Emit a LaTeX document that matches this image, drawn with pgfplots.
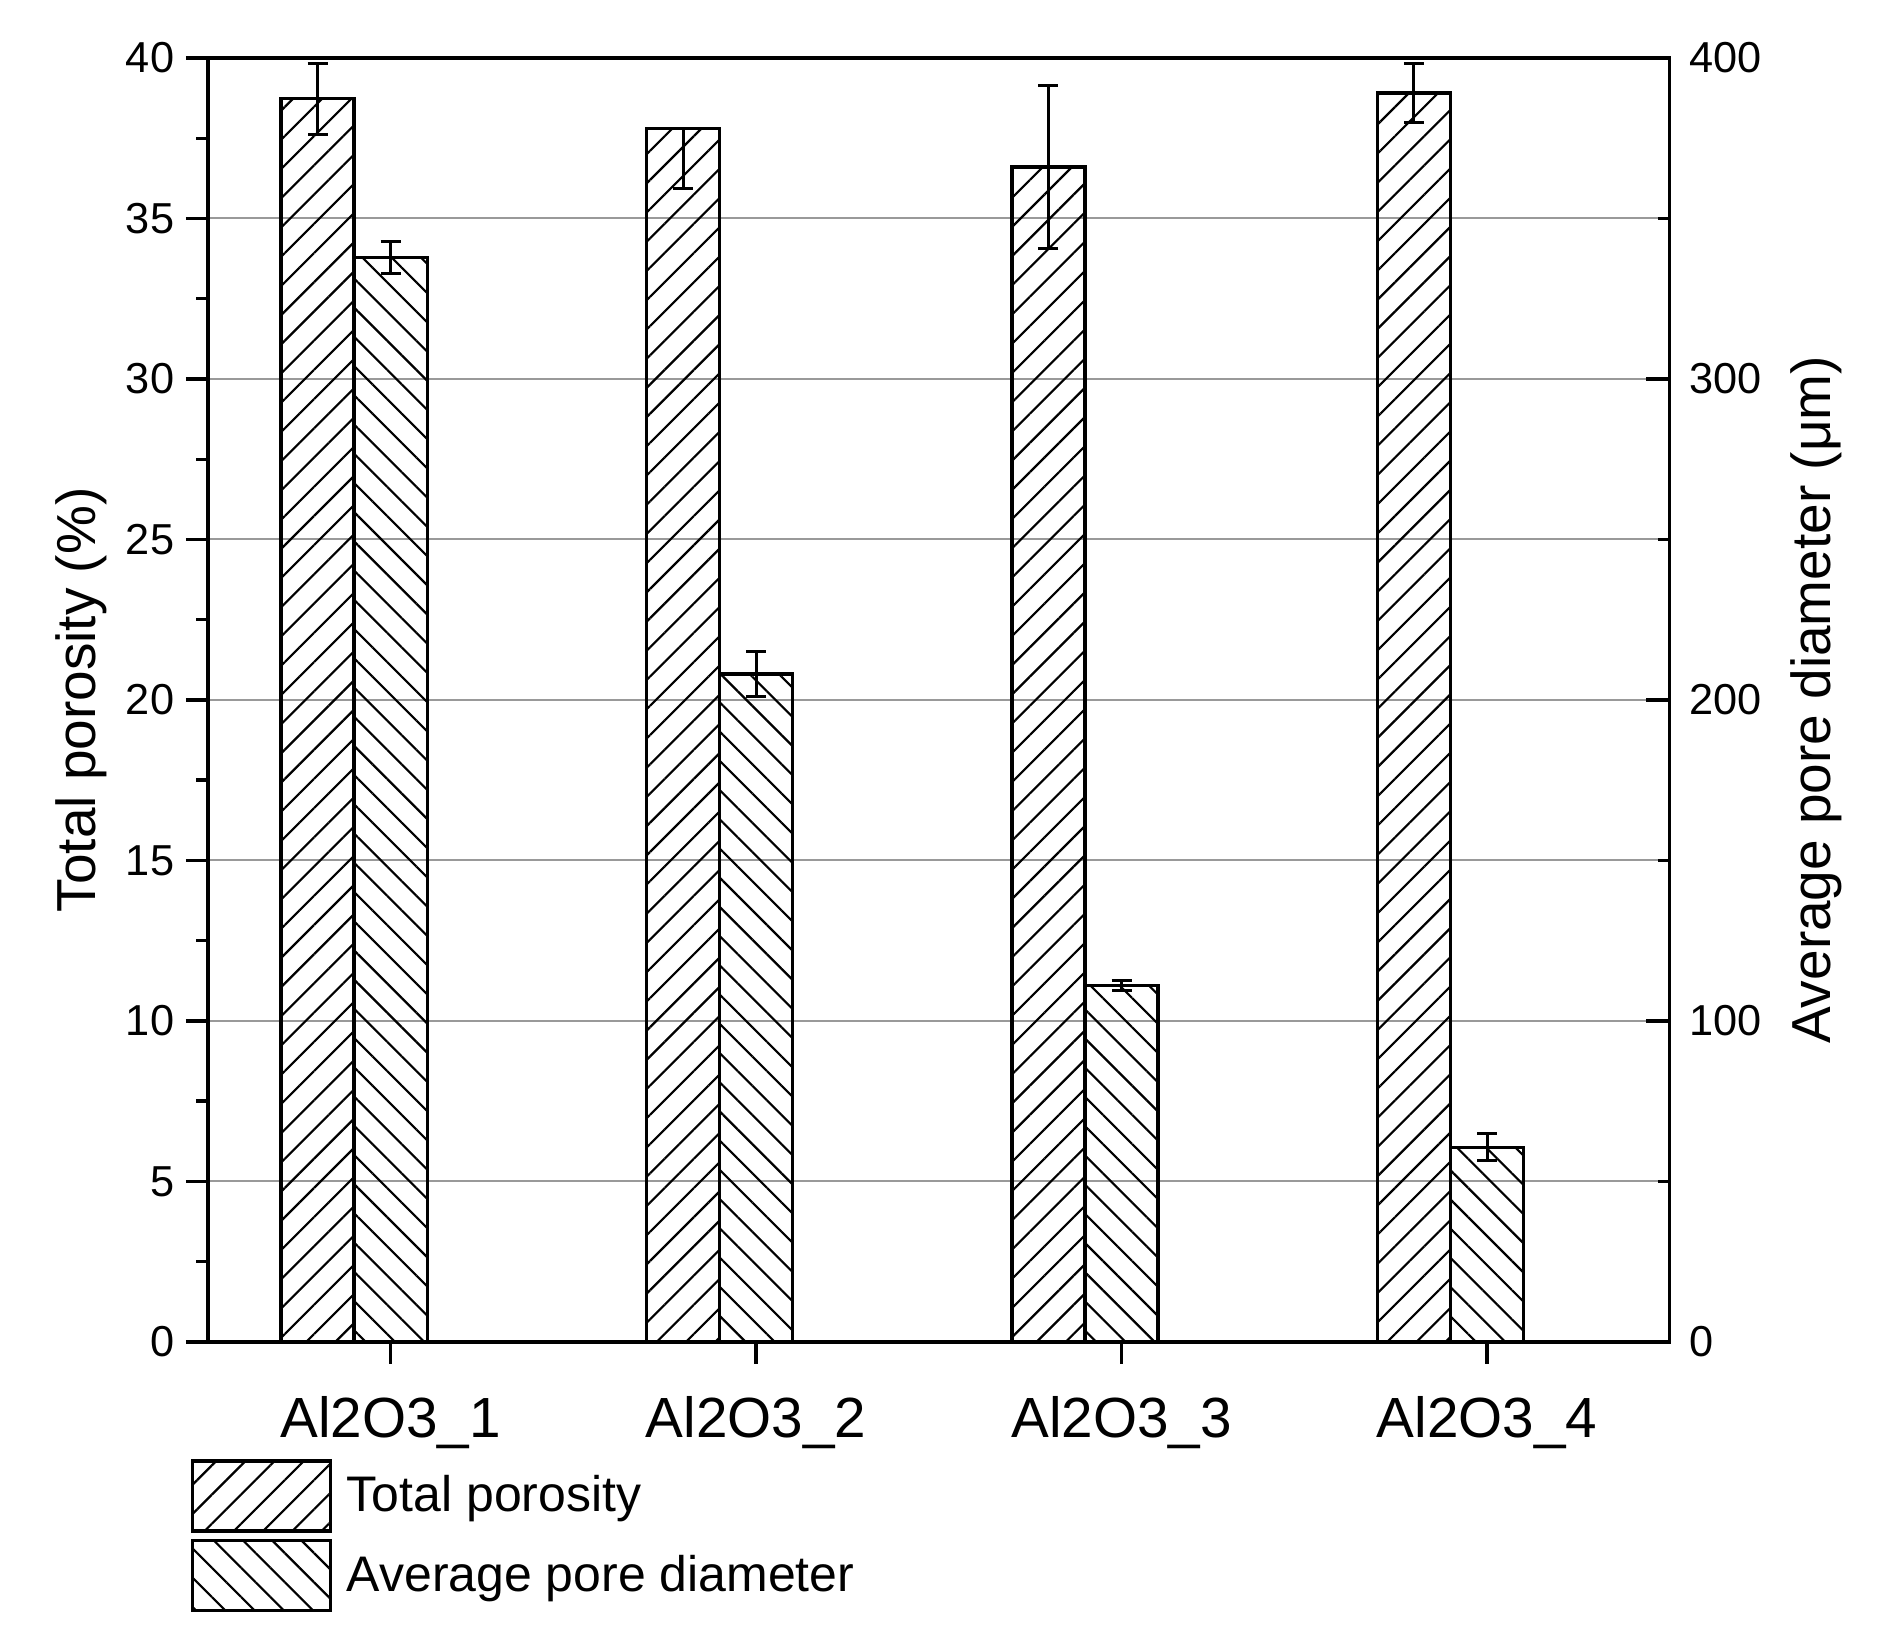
\documentclass[border=0pt]{standalone}
\usepackage{pgfplots}
\pgfplotsset{compat=1.18}
\usepackage{fontspec}
\setmainfont{Liberation Sans}
\usetikzlibrary{patterns.meta}
\begin{document}
\begin{tikzpicture}
\pgfplotsset{
  common/.style={
    scale only axis, width=438.7pt, height=385.3pt,
    at={(0pt,0pt)}, anchor=south west,
    xmin=0.5, xmax=4.5,
    /pgf/number format/assume math mode=true,
    ybar, bar width=0.2, bar shift=0pt,
    axis line style={line width=1pt},
    tick style={line width=1pt, black},
    yticklabel style={font=\fontsize{13}{15}\selectfont},
  },
  porobar/.style={draw=black, line width=1pt,
    pattern={Lines[angle=45, distance=6.2pt, line width=0.65pt]}, pattern color=black},
  diambar/.style={draw=black, line width=1pt,
    pattern={Lines[angle=-45, distance=6.2pt, line width=0.65pt]}, pattern color=black},
  errs/.style={error bars/y dir=#1, error bars/y explicit,
    error bars/error bar style={line width=0.9pt, black},
    error bars/error mark options={rotate=90, mark size=3pt, line width=0.9pt, black}},
}
\begin{axis}[common,
  ymin=0, ymax=40,
  ytick={0,5,...,40}, minor y tick num=1,
  xtick={1,2,3,4}, xticklabels={Al2O3\_1,Al2O3\_2,Al2O3\_3,Al2O3\_4},
  xtick pos=bottom, ytick pos=left, tick align=outside,
  major tick length=6.6pt, minor tick length=3.5pt,
  ymajorgrids, major grid style={black!40, line width=0.6pt},
  xticklabel style={font=\fontsize{17}{20}\selectfont, yshift=-6.2pt},
  ylabel={Total porosity (\%)},
  ylabel style={font=\fontsize{16.5}{20}\selectfont, at={(axis description cs:-0.0866,0.5)}, anchor=center},
  legend image code/.code={\draw[#1] (0pt,-10.5pt) rectangle (41.4pt,10.5pt);},
  legend style={at={(axis description cs:-0.0123,-0.0911)}, anchor=north west,
    draw=none, fill=none, inner sep=0pt, nodes={inner sep=0pt},
    column sep=4.5pt, row sep=2pt, font=\fontsize{15}{18}\selectfont},
  legend cell align=left,
]
\addplot[porobar, errs=both] coordinates {
  (0.8,38.73) +- (0,1.11)
  (2.8,36.60) +- (0,2.55)
  (3.8,38.91) +- (0,0.92)
};
\addlegendentry{Total porosity}
\addplot[porobar, errs=minus, forget plot] coordinates {
  (1.8,37.80) +- (0,1.87)
};
\addlegendimage{diambar}
\addlegendentry{Average pore diameter}
\end{axis}
\begin{axis}[common,
  ymin=0, ymax=400,
  axis x line=none, axis y line*=right,
  ytick={0,100,...,400}, minor ytick={50,150,250,350},
  tick align=inside, major tick length=7pt, minor tick length=3.5pt,
  yticklabel style={xshift=2.3pt},
  ylabel={Average pore diameter (μm)},
  ylabel style={font=\fontsize{16.5}{20}\selectfont, at={(axis description cs:1.1003,0.5)}, anchor=center},
]
\addplot[diambar, errs=both] coordinates {
  (1,337.8) +- (0,5.0)
  (2,208.1) +- (0,7.0)
  (3,111.0) +- (0,1.5)
  (4,60.6) +- (0,4.2)
};
\end{axis}
\path (-62.4pt,-91.9pt) rectangle (503.6pt,402.7pt);
\end{tikzpicture}
\end{document}
